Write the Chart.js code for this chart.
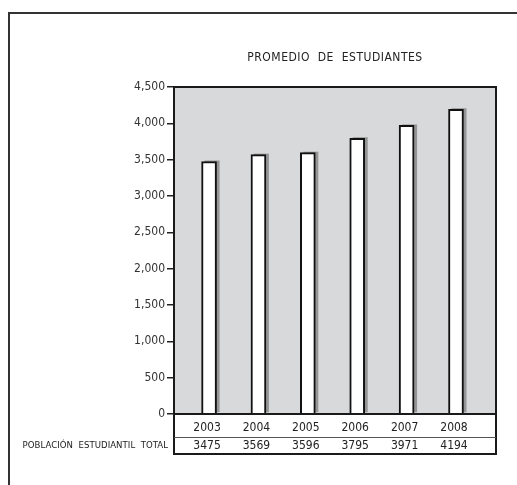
<!DOCTYPE html>
<html>
<head>
<meta charset="utf-8">
<script src="https://cdn.jsdelivr.net/npm/chart.js@4"></script>
<style>
  html, body { margin: 0; padding: 0; background: #fff; }
  #wrap { width: 517px; height: 485px; position: relative; }
</style>
</head>
<body>
<div id="wrap"><canvas id="chart"></canvas></div>
<script>
// Promedio de estudiantes 2003-2008
const years = ['2003', '2004', '2005', '2006', '2007', '2008'];
const students = [3475, 3569, 3596, 3795, 3971, 4194];
const chartTitle = 'PROMEDIO  DE  ESTUDIANTES';
const rowLabel = 'POBLACIÓN  ESTUDIANTIL  TOTAL';

const FONT = "'Liberation Sans Narrow', 'DejaVu Sans Condensed', 'Roboto', sans-serif";

// Frame, grey plot background, title and the data table under the axis
const decorPlugin = {
  id: 'decor',
  beforeDraw(chart) {
    const { ctx, chartArea: a } = chart;
    ctx.save();
    ctx.fillStyle = '#d8d9db';
    ctx.fillRect(a.left, a.top, a.right - a.left, a.bottom - a.top);
    ctx.restore();
  },
  beforeDatasetsDraw(chart) {
    // grey drop shadow behind each bar
    const { ctx } = chart;
    const meta = chart.getDatasetMeta(0);
    ctx.save();
    ctx.fillStyle = '#959595';
    meta.data.forEach(bar => {
      const w = bar.width;
      ctx.fillRect(bar.x - w / 2 + 3, bar.y - 1, w, bar.base - bar.y);
    });
    ctx.restore();
  },
  afterDraw(chart) {
    const { ctx, chartArea: a } = chart;
    const x = chart.scales.x;
    ctx.save();

    // outer frame (top and left only)
    ctx.strokeStyle = '#333';
    ctx.lineWidth = 2;
    ctx.beginPath();
    ctx.moveTo(9, 485);
    ctx.lineTo(9, 13);
    ctx.lineTo(517, 13);
    ctx.stroke();

    // plot border
    ctx.strokeStyle = '#1a1a1a';
    ctx.lineWidth = 2;
    ctx.beginPath();
    ctx.moveTo(a.left, a.bottom);
    ctx.lineTo(a.left, a.top);
    ctx.lineTo(a.right, a.top);
    ctx.lineTo(a.right, a.bottom);
    ctx.stroke();

    // table
    const r1 = a.bottom + 23;
    const r2 = a.bottom + 40;
    ctx.beginPath();
    ctx.moveTo(a.left, a.bottom);
    ctx.lineTo(a.left, r2);
    ctx.lineTo(a.right, r2);
    ctx.lineTo(a.right, a.bottom);
    ctx.moveTo(a.left - 1, a.bottom);
    ctx.lineTo(a.right + 1, a.bottom);
    ctx.stroke();
    ctx.strokeStyle = '#555';
    ctx.lineWidth = 1;
    ctx.beginPath();
    ctx.moveTo(a.left, r1 + 0.5);
    ctx.lineTo(a.right, r1 + 0.5);
    ctx.stroke();

    ctx.fillStyle = '#222';
    ctx.textAlign = 'center';
    ctx.textBaseline = 'middle';
    ctx.font = '12px ' + FONT;
    years.forEach((yr, i) => {
      const cx = x.getPixelForValue(+yr) - 2;
      ctx.fillText(yr, cx, a.bottom + 14);
      ctx.fillText(String(students[i]), cx, r1 + 9);
    });

    ctx.font = '9.5px ' + FONT;
    ctx.textAlign = 'right';
    ctx.letterSpacing = '0.05px';
    ctx.fillText(rowLabel, a.left - 6, r1 + 9);

    // title
    ctx.font = '12px ' + FONT;
    ctx.textAlign = 'center';
    ctx.letterSpacing = '0.5px';
    ctx.fillText(chartTitle, (a.left + a.right) / 2, a.top - 29);
    ctx.restore();
  }
};

new Chart(document.getElementById('chart'), {
  type: 'bar',
  data: {
    datasets: [{
      data: years.map((yr, i) => ({ x: +yr, y: students[i] })),
      backgroundColor: '#ffffff',
      borderColor: '#111111',
      borderWidth: 2,
      barThickness: 15
    }]
  },
  options: {
    responsive: true,
    maintainAspectRatio: false,
    animation: false,
    layout: { padding: { left: 0, top: 87, right: 21, bottom: 71 } },
    plugins: {
      legend: { display: false },
      tooltip: { enabled: false }
    },
    scales: {
      x: {
        type: 'linear',
        display: false,
        offset: false,
        min: 2002.29,
        max: 2008.81
      },
      y: {
        min: 0,
        max: 4500,
        afterFit(scale) { scale.width = 174; },
        ticks: {
          stepSize: 500,
          padding: 2,
          color: '#333',
          font: { family: FONT, size: 12 },
          callback: v => v.toLocaleString('en-US')
        },
        grid: {
          drawOnChartArea: false,
          tickLength: 7,
          color: '#222',
          lineWidth: 1.5
        },
        border: { display: true, color: '#1a1a1a', width: 2 }
      }
    }
  },
  plugins: [decorPlugin]
});
</script>
</body>
</html>
